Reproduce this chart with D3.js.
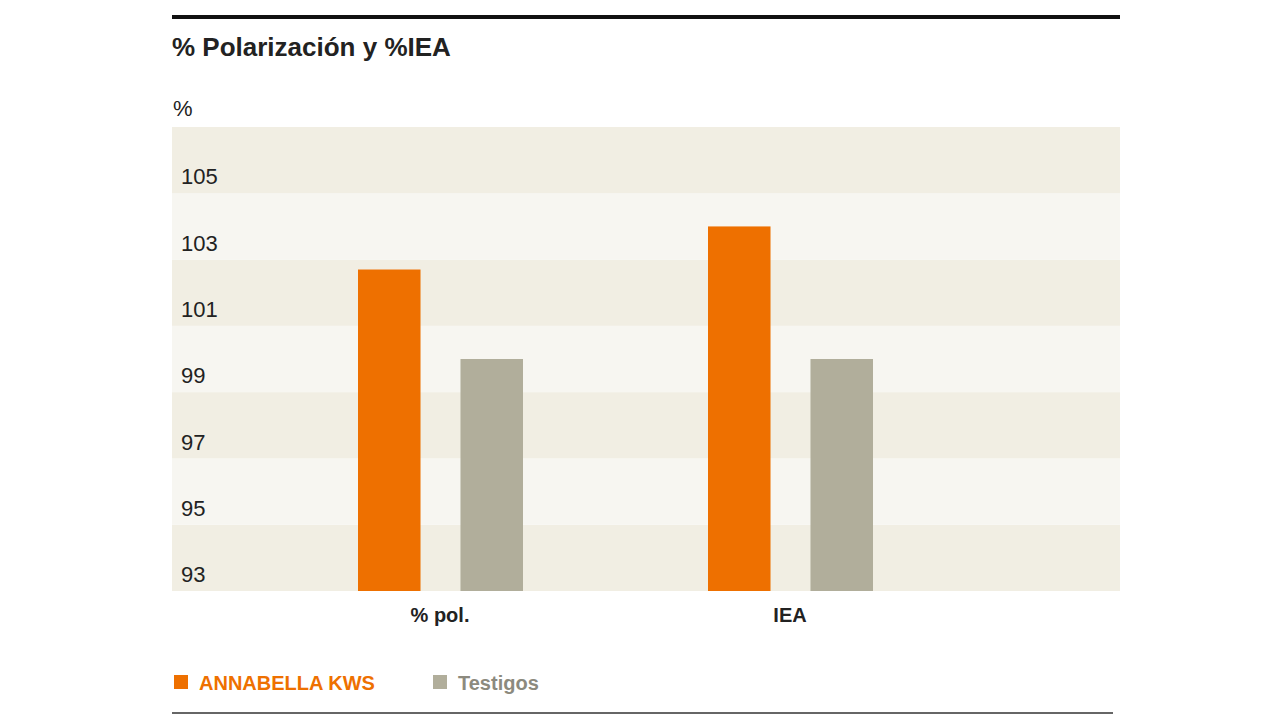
<!DOCTYPE html>
<html><head><meta charset="utf-8">
<script src="https://cdn.jsdelivr.net/npm/d3@7"></script>
<style>body{margin:0;background:#fff}svg{font-family:"Liberation Sans",Arial,sans-serif}</style>
</head><body><div id="chart"></div>
<script>
var categories = ["% pol.", "IEA"];
var series = ["ANNABELLA KWS", "Testigos"];
var annabella = [102.2, 103.5];
var testigos = [99.5, 99.5];
var ticks = [93, 95, 97, 99, 101, 103, 105];
var colors = ["#ee7000", "#b1ae9b"];

var svg = d3.select("#chart").append("svg").attr("width", 1280).attr("height", 720);

// frame lines and title
svg.append("line").attr("x1", 172).attr("x2", 1120).attr("y1", 17).attr("y2", 17)
  .attr("stroke", "#111").attr("stroke-width", 4);
svg.append("text").attr("x", 172).attr("y", 56).attr("font-size", 26).attr("font-weight", "bold")
  .attr("fill", "#222").text("% Polarización y %IEA");
svg.append("text").attr("x", 173).attr("y", 116).attr("font-size", 22).attr("fill", "#222").text("%");

var y = d3.scaleLinear().domain([92.5, 106.5]).range([591, 127]);
var x = d3.scaleBand().domain(categories).range([265, 965]);
var xs = d3.scaleBand().domain(series).range([-82, 83]).paddingInner(0.39);

// alternating bands
var bands = d3.range(92.5, 106.5, 2);
svg.selectAll(".band").data(bands).enter().append("rect")
  .attr("x", 172).attr("width", 948)
  .attr("y", function (d) { return y(d + 2); })
  .attr("height", function (d) { return y(d) - y(d + 2); })
  .attr("fill", function (d, i) { return i % 2 === 0 ? "#f1eee3" : "#f7f6f1"; });

// y labels
svg.selectAll(".tick").data(ticks).enter().append("text")
  .attr("x", 181).attr("y", function (d) { return y(d); }).attr("dy", "0.35em")
  .attr("font-size", 22).attr("fill", "#222").text(function (d) { return d; });

// bars
var rows = categories.map(function (c, i) { return { cat: c, vals: [annabella[i], testigos[i]] }; });
var grp = svg.selectAll(".grp").data(rows).enter().append("g")
  .attr("transform", function (d) { return "translate(" + (x(d.cat) + x.bandwidth() / 2) + ",0)"; });
grp.selectAll("rect").data(function (d) { return d.vals; }).enter().append("rect")
  .attr("x", function (d, i) { return xs(series[i]); })
  .attr("width", xs.bandwidth())
  .attr("y", function (d) { return y(d); })
  .attr("height", function (d) { return 591 - y(d); })
  .attr("fill", function (d, i) { return colors[i]; });
grp.append("text").attr("y", 622).attr("text-anchor", "middle").attr("font-size", 20)
  .attr("font-weight", "bold").attr("fill", "#222").text(function (d) { return d.cat; });

// legend
var legX = [174, 433];
var legText = ["#ee7000", "#8c8a7e"];
series.forEach(function (s, i) {
  svg.append("rect").attr("x", legX[i]).attr("y", 675).attr("width", 14).attr("height", 14).attr("fill", colors[i]);
  svg.append("text").attr("x", legX[i] + 25).attr("y", 690).attr("font-size", 20).attr("font-weight", "bold")
    .attr("fill", legText[i]).text(s);
});

svg.append("line").attr("x1", 172).attr("x2", 1113).attr("y1", 713).attr("y2", 713)
  .attr("stroke", "#333").attr("stroke-width", 1.5);
</script></body></html>
